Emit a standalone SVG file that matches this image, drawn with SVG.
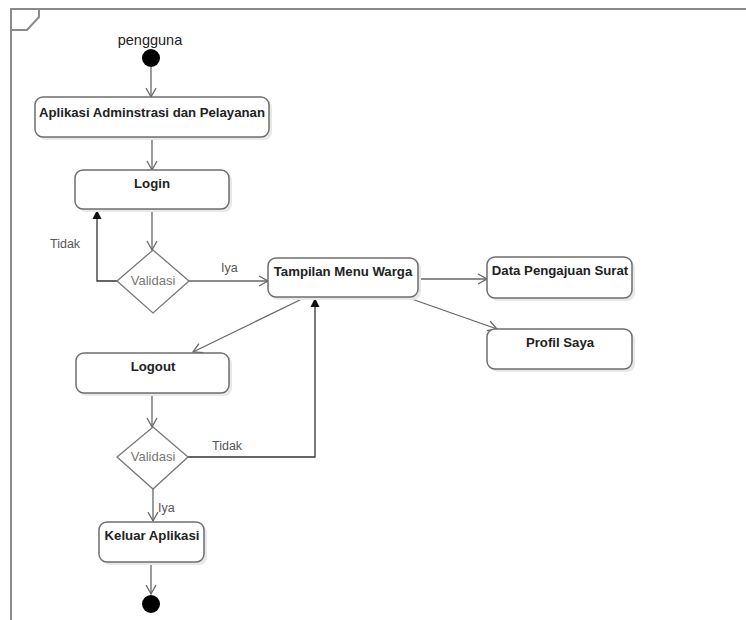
<svg xmlns="http://www.w3.org/2000/svg" width="746" height="620" viewBox="0 0 746 620">
<defs>
<style>
.frame{fill:none;stroke:#8a8a8a;stroke-width:2}
.box{fill:#fff;stroke:#6e6e6e;stroke-width:1.5}
.shadow{fill:#e8e8e8}
.dia{fill:#fff;stroke:#777;stroke-width:1.3}
.t{font-family:"Liberation Sans",Arial,sans-serif;font-size:13.2px;font-weight:bold;fill:#222;text-anchor:middle}
.lbl{font-family:"Liberation Sans",Arial,sans-serif;font-size:12.5px;fill:#555}
.dl{font-family:"Liberation Sans",Arial,sans-serif;font-size:13px;fill:#777;text-anchor:middle}
.c{fill:none;stroke:#666;stroke-width:1.3}
.cd{fill:none;stroke:#333;stroke-width:1.3}
</style>
<marker id="open" markerWidth="12" markerHeight="12" refX="10" refY="6" orient="auto" markerUnits="userSpaceOnUse">
<path d="M1,1 L10,6 L1,11" fill="none" stroke="#666" stroke-width="1.3"/>
</marker>
<marker id="filled" markerWidth="10" markerHeight="10" refX="9" refY="5" orient="auto" markerUnits="userSpaceOnUse">
<path d="M0,0.5 L9,5 L0,9.5 Z" fill="#111"/>
</marker>
</defs>
<rect width="746" height="620" fill="#fff"/>
<g id="frame">
<path class="frame" d="M746,9 L11,9 L11,620"/>
<path class="frame" d="M11,9 L39,9 L39,17 L27,30 L11,30" stroke-width="1.5"/>
</g>
<g id="connectors">
<line class="c" x1="151" y1="67" x2="151" y2="97" marker-end="url(#open)"/>
<line class="c" x1="152" y1="137" x2="152" y2="170" marker-end="url(#open)"/>
<line class="c" x1="152" y1="209" x2="152" y2="250" marker-end="url(#open)"/>
<path class="cd" d="M118,281 L97,281 L97,210" marker-end="url(#filled)"/>
<line class="c" x1="189" y1="281" x2="268" y2="281" marker-end="url(#open)"/>
<line class="c" x1="418" y1="279" x2="487" y2="279" marker-end="url(#open)"/>
<line class="c" x1="406" y1="297" x2="497" y2="329" marker-end="url(#open)"/>
<line class="c" x1="304" y1="298" x2="193" y2="352" marker-end="url(#open)"/>
<line class="c" x1="152" y1="393" x2="152" y2="427" marker-end="url(#open)"/>
<path class="cd" d="M188,457 L315,457 L315,298" marker-end="url(#filled)"/>
<line class="c" x1="153" y1="489" x2="153" y2="521" marker-end="url(#open)"/>
<line class="c" x1="151" y1="562" x2="151" y2="594" marker-end="url(#open)"/>
<text class="lbl" x="50" y="248">Tidak</text>
<text class="lbl" x="221" y="272">Iya</text>
<text class="lbl" x="212" y="450">Tidak</text>
<text class="lbl" x="158" y="512">Iya</text>
</g>
<g id="start">
<text class="lbl" x="150" y="45" text-anchor="middle" style="font-size:14.5px;fill:#222">pengguna</text>
<circle cx="151" cy="58" r="9" fill="#000"/>
</g>
<g id="aplikasi">
<rect class="shadow" x="38" y="100" width="234" height="40" rx="8"/>
<rect class="box" x="35" y="97" width="234" height="40" rx="8"/>
<text class="t" x="152" y="117">Aplikasi Adminstrasi dan Pelayanan</text>
</g>
<g id="login">
<rect class="shadow" x="78" y="173" width="154" height="39" rx="8"/>
<rect class="box" x="75" y="170" width="154" height="39" rx="8"/>
<text class="t" x="152" y="188">Login</text>
</g>
<g id="validasi1">
<polygon class="dia" points="153,250 189,281 153,313 117,281"/>
<text class="dl" x="153" y="285">Validasi</text>
</g>
<g id="tampilan">
<rect class="shadow" x="271" y="261" width="150" height="39" rx="8"/>
<rect class="box" x="268" y="258" width="150" height="39" rx="8"/>
<text class="t" x="343" y="276">Tampilan Menu Warga</text>
</g>
<g id="data">
<rect class="shadow" x="490" y="260" width="145" height="41" rx="8"/>
<rect class="box" x="487" y="257" width="145" height="41" rx="8"/>
<text class="t" x="560" y="275">Data Pengajuan Surat</text>
</g>
<g id="profil">
<rect class="shadow" x="490" y="332" width="145" height="40" rx="8"/>
<rect class="box" x="487" y="329" width="145" height="40" rx="8"/>
<text class="t" x="560" y="347">Profil Saya</text>
</g>
<g id="logout">
<rect class="shadow" x="79" y="356" width="153" height="40" rx="8"/>
<rect class="box" x="76" y="353" width="153" height="40" rx="8"/>
<text class="t" x="153" y="371">Logout</text>
</g>
<g id="validasi2">
<polygon class="dia" points="153,427 188,457 153,489 117,457"/>
<text class="dl" x="153" y="461">Validasi</text>
</g>
<g id="keluar">
<rect class="shadow" x="102" y="525" width="105" height="40" rx="8"/>
<rect class="box" x="99" y="522" width="105" height="40" rx="8"/>
<text class="t" x="152" y="540">Keluar Aplikasi</text>
</g>
<g id="end">
<circle cx="151" cy="604" r="9" fill="#000"/>
</g>
</svg>
